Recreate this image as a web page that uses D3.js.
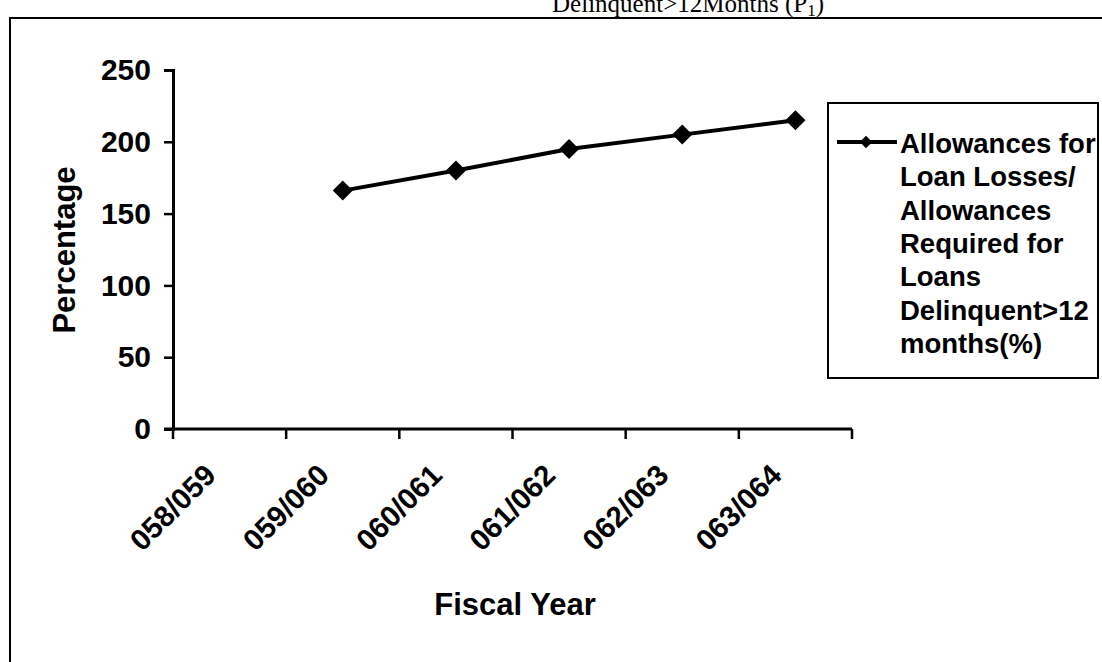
<!DOCTYPE html>
<html><head><meta charset="utf-8">
<script src="https://cdn.jsdelivr.net/npm/d3@7"></script>
<style>
html,body{margin:0;padding:0;background:#fff;}
svg{display:block;}
text{font-family:"Liberation Sans",Arial,sans-serif;font-weight:bold;fill:#000;}
</style></head>
<body>
<svg id="chart" width="1102" height="662"></svg>
<script>
const categories = ["058/059","059/060","060/061","061/062","062/063","063/064"];
const values = [null,166,180,195,205,215];
const yTicks = [0,50,100,150,200,250];
const seriesName = ["Allowances for","Loan Losses/","Allowances","Required for","Loans","Delinquent>12","months(%)"];
const titleText = "Delinquent>12Months (P";
const titleSub = "1";

const svg = d3.select("#chart");

// outer frame
svg.append("rect").attr("x",10).attr("y",18).attr("width",1200).attr("height",800)
  .attr("fill","none").attr("stroke","#000").attr("stroke-width",2);

// title (cut off at top, as in the reference)
const t = svg.append("text").attr("x",688).attr("y",12).attr("text-anchor","middle")
  .style("font-family","'Liberation Serif','Times New Roman',serif").style("font-weight","normal")
  .style("font-size","25px");
t.append("tspan").text(titleText);
t.append("tspan").attr("dy",4).style("font-size","17px").text(titleSub);
t.append("tspan").attr("dy",-4).text(")");

const x = d3.scaleBand().domain(categories).range([173,852]);
const y = d3.scaleLinear().domain([0,250]).range([429,70]);

// y axis
const gy = svg.append("g").attr("transform","translate(173,0)")
  .call(d3.axisLeft(y).tickValues(yTicks).tickSize(9).tickPadding(13));
gy.select(".domain").attr("stroke","#000").attr("stroke-width",3);
gy.selectAll(".tick line").attr("stroke","#000").attr("stroke-width",2.5);
gy.selectAll(".tick text").style("font-size","30px").style("font-family","'Liberation Sans',Arial,sans-serif").style("font-weight","bold").attr("fill","#000");

// x axis
const gx = svg.append("g");
gx.append("line").attr("x1",x.range()[0]-9).attr("x2",x.range()[1]).attr("y1",y(0)).attr("y2",y(0))
  .attr("stroke","#000").attr("stroke-width",3);
const edges = categories.map(c=>x(c)).concat([x.range()[1]]);
gx.selectAll("line.tk").data(edges).enter().append("line").attr("class","tk")
  .attr("x1",d=>d).attr("x2",d=>d).attr("y1",y(0)).attr("y2",y(0)+10)
  .attr("stroke","#000").attr("stroke-width",2.5);
gx.selectAll("text.lbl").data(categories).enter().append("text").attr("class","lbl")
  .attr("text-anchor","end")
  .attr("transform",d=>`translate(${x(d)+x.bandwidth()/2-12},${y(0)+48}) rotate(-45)`)
  .style("font-size","29.5px").text(d=>d);

// axis titles
svg.append("text").attr("text-anchor","middle").attr("transform","translate(75,250) rotate(-90)")
  .style("font-size","31px").text("Percentage");
svg.append("text").attr("text-anchor","middle").attr("x",515).attr("y",615)
  .style("font-size","31px").text("Fiscal Year");

// line
const pts = categories.map((c,i)=>({c,v:values[i]})).filter(d=>d.v!=null);
const line = d3.line().x(d=>x(d.c)+x.bandwidth()/2).y(d=>y(d.v));
svg.append("path").datum(pts).attr("d",line).attr("fill","none").attr("stroke","#000").attr("stroke-width",4);
svg.selectAll("path.pt").data(pts).enter().append("path").attr("class","pt")
  .attr("d",d3.symbol().type(d3.symbolSquare).size(200))
  .attr("transform",d=>`translate(${x(d.c)+x.bandwidth()/2},${y(d.v)}) rotate(45)`)
  .attr("fill","#000");

// legend
svg.append("rect").attr("x",828).attr("y",103).attr("width",270).attr("height",275)
  .attr("fill","#fff").attr("stroke","#000").attr("stroke-width",2);
svg.append("line").attr("x1",837).attr("x2",897).attr("y1",142).attr("y2",142)
  .attr("stroke","#000").attr("stroke-width",4);
svg.append("path").attr("d",d3.symbol().type(d3.symbolSquare).size(80))
  .attr("transform","translate(866,142) rotate(45)").attr("fill","#000");
svg.append("g").selectAll("text").data(seriesName).enter().append("text")
  .attr("x",900).attr("y",(d,i)=>153+i*33.3).style("font-size","27.5px").text(d=>d);
</script>
</body></html>
